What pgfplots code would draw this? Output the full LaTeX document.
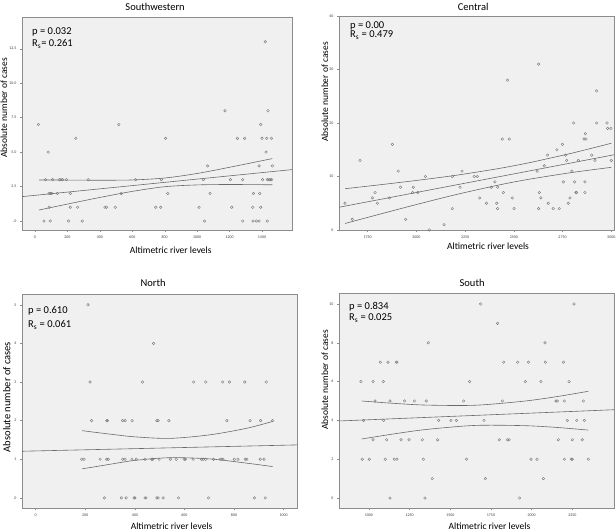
\documentclass[border=0pt]{standalone}
\usepackage{fontspec}
\setmainfont{Carlito}
\usepackage{pgfplots}
\pgfplotsset{compat=1.18}

\definecolor{panelbg}{HTML}{F0F0F0}
\definecolor{framegray}{HTML}{8C8C8C}
\definecolor{ptgray}{HTML}{7A7A7A}
\definecolor{linegray}{HTML}{6A6A6A}

\pgfplotsset{
  spss/.style={
    scale only axis,
    axis background/.style={fill=panelbg},
    axis line style={framegray, line width=0.8pt},
    tick style={framegray, line width=0.4pt},
    tick align=outside,
    major tick length=2pt,
    xtick pos=bottom, ytick pos=left,
    ticklabel style={font=\fontsize{4}{4}\selectfont, text=black!75},
    label style={font=\fontsize{9.5}{10}\selectfont},
    every axis title/.style={font=\fontsize{10.5}{11}\selectfont, anchor=center},
    xlabel={Altimetric river levels},
    ylabel={Absolute number of cases},
  },
  pts/.style={only marks, mark=o, mark size=1.3pt, ptgray, mark options={line width=0.4pt}},
  fitl/.style={no marks, linegray, line width=0.6pt},
  band/.style={no marks, smooth, linegray, line width=0.6pt},
}

\begin{document}
\begin{tikzpicture}
\useasboundingbox (0pt,0pt) rectangle (616pt,531pt);

% Southwestern
\begin{axis}[spss,
  at={(22pt,301pt)}, width=270pt, height=213pt,
  xmin=-80, xmax=1585, ymin=-0.65, ymax=14.8,
  xtick={0,200,400,600,800,1000,1200,1400},
  xticklabels={0,200,400,600,800,1000,1200,1400},
  ytick={0,2.5,5,7.5,10,12.5},
  yticklabels={.0,2.5,5.0,7.5,10.0,12.5},
  title={Southwestern},
  title style={at={(axis description cs:0.493,1.048)}},
  xlabel style={at={(axis description cs:0.551,-0.094)}, anchor=center},
  ylabel style={at={(axis description cs:-0.067,0.573)}, anchor=center},
]
\addplot[pts] coordinates {
  (1420,13) (1172,8) (1437,8) (21,7) (517,7) (1392,7)
  (252,6) (805,6) (1248,6) (1293,6) (1400,6) (1429,6) (1458,6)
  (82,5) (1425,5) (1065,4) (1382,4) (1464,4)
  (65,3) (109,3) (150,3) (160,3) (170,3) (193,3) (328,3) (620,3) (780,3) (1039,3)
  (1205,3) (1281,3) (1404,3) (1433,3) (1443,3) (1451,3) (1460,3)
  (86,2) (96,2) (103,2) (138,2) (218,2) (532,2) (819,2) (1080,2) (1347,2) (1386,2)
  (88,1) (218,1) (263,1) (431,1) (441,1) (495,1) (745,1) (776,1) (1012,1) (1213,1) (1343,1) (1392,1)
  (55,0) (94,0) (207,0) (292,0) (1045,0) (1281,0) (1345,0) (1365,0) (1382,0) (1433,0)
};
\addplot[fitl] coordinates {(-80,1.77) (1585,3.73)};
\addplot[band] coordinates {(25,2.98) (200,2.97) (400,2.96) (600,2.98) (800,3.12) (1000,3.45) (1200,3.90) (1464,4.53)};
\addplot[band] coordinates {(25,0.80) (200,1.23) (400,1.71) (600,2.15) (800,2.49) (1000,2.62) (1200,2.65) (1464,2.63)};
\end{axis}

% Central
\begin{axis}[spss,
  at={(339pt,301pt)}, width=275pt, height=214pt,
  xmin=1603, xmax=3014, ymin=0, ymax=40,
  xtick={1750,2000,2250,2500,2750,3000},
  xticklabels={1750,2000,2250,2500,2750,3000},
  ytick={0,10,20,30,40},
  yticklabels={0,10,20,30,40},
  title={Central},
  title style={at={(axis description cs:0.488,1.043)}},
  xlabel style={at={(axis description cs:0.542,-0.075)}, anchor=center},
  ylabel style={at={(axis description cs:-0.051,0.645)}, anchor=center},
]
\addplot[pts] coordinates {
  (1634,5) (1671,2) (1711,13) (1774,6) (1788,7) (1800,5) (1861,6) (1877,16) (1907,11) (1919,8)
  (1945,2) (1981,7) (1984,8) (2007,7) (2046,10) (2066,0) (2142,1) (2184,4) (2184,10) (2224,8)
  (2234,11) (2297,10) (2313,10) (2325,6) (2360,5) (2384,8) (2403,9) (2412,5) (2417,8) (2417,4)
  (2441,17) (2446,7) (2468,28) (2477,17) (2492,6) (2501,4) (2620,11) (2627,4) (2627,31) (2631,7)
  (2639,6) (2656,12) (2673,14) (2677,5) (2702,4) (2721,15) (2733,4) (2749,16) (2754,9) (2766,14)
  (2771,13) (2779,5) (2788,6) (2798,11) (2807,20) (2812,9) (2819,7) (2822,7) (2831,13) (2860,17)
  (2865,9) (2865,7) (2867,18) (2870,17) (2899,14) (2916,13) (2925,20) (2925,26) (2978,20)
  (2981,19) (2998,19) (3000,13)
};
\addplot[fitl] coordinates {(1603,4.25) (3014,14.06)};
\addplot[band] coordinates {(1634,7.72) (1800,8.40) (2000,9.26) (2200,10.21) (2400,11.35) (2500,12.01) (2600,12.74) (2800,14.38) (3000,16.21)};
\addplot[band] coordinates {(1634,1.22) (1800,2.84) (2000,4.76) (2200,6.59) (2400,8.23) (2500,8.97) (2600,9.62) (2800,10.76) (3000,11.71)};
\end{axis}

% North
\begin{axis}[spss,
  at={(22pt,22.7pt)}, width=275pt, height=214pt,
  xmin=-55, xmax=1054, ymin=-0.27, ymax=5.27,
  xtick={0,200,400,600,800,1000},
  xticklabels={0,200,400,600,800,1000},
  ytick={0,1,2,3,4,5},
  yticklabels={0,1,2,3,4,5},
  title={North},
  title style={at={(axis description cs:0.477,1.051)}},
  xlabel style={at={(axis description cs:0.544,-0.086)}, anchor=center},
  ylabel style={at={(axis description cs:-0.055,0.520)}, anchor=center, font=\fontsize{10.5}{11}\selectfont},
]
\addplot[pts] coordinates {
  (211,5) (476,4)
  (219,3) (431,3) (637,3) (686,3) (754,3) (782,3) (843,3) (930,3)
  (226,2) (287,2) (289,2) (351,2) (361,2) (389,2) (489,2) (494,2) (537,2) (771,2) (865,2) (907,2) (956,2)
  (186,1) (195,1) (260,1) (287,1) (293,1) (351,1) (361,1) (388,1) (406,1) (441,1) (468,1) (472,1)
  (498,1) (544,1) (567,1) (599,1) (604,1) (635,1) (669,1) (676,1) (686,1) (717,1) (744,1) (751,1)
  (756,1) (801,1) (816,1) (845,1) (852,1) (906,1) (921,1)
  (277,0) (346,0) (365,0) (397,0) (400,0) (441,0) (445,0) (489,0) (494,0) (514,0) (576,0) (697,0) (882,0) (926,0)
};
\addplot[fitl] coordinates {(-55,1.207) (1054,1.371)};
\addplot[band] coordinates {(187,1.74) (300,1.65) (400,1.58) (540,1.54) (700,1.63) (850,1.80) (956,1.98)};
\addplot[band] coordinates {(187,0.75) (300,0.87) (400,0.97) (540,1.04) (700,1.01) (850,0.90) (956,0.81)};
\end{axis}

% South
\begin{axis}[spss,
  at={(339pt,22.7pt)}, width=275pt, height=215pt,
  xmin=816, xmax=2506, ymin=-0.53, ymax=10.55,
  xtick={1000,1250,1500,1750,2000,2250},
  xticklabels={1000,1250,1500,1750,2000,2250},
  ytick={0,2,4,6,8,10},
  yticklabels={0,2,4,6,8,10},
  title={South},
  title style={at={(axis description cs:0.484,1.047)}},
  xlabel style={at={(axis description cs:0.547,-0.082)}, anchor=center},
  ylabel style={at={(axis description cs:-0.051,0.597)}, anchor=center},
]
\addplot[pts] coordinates {
  (1686,10) (2260,10) (1791,9) (1365,8) (2082,8)
  (1070,7) (1117,7) (1168,7) (1172,7) (1828,7) (1914,7) (1980,7) (2084,7) (2195,7)
  (951,6) (1025,6) (1088,6) (1619,6) (1961,6) (2057,6) (2230,6)
  (1037,5) (1129,5) (1219,5) (1279,5) (1352,5) (1582,5) (1820,5) (2150,5) (2158,5) (2201,5) (2318,5)
  (967,4) (1090,4) (1428,4) (1504,4) (1537,4) (1707,4) (2219,4) (2277,4) (2324,4)
  (1025,3) (1109,3) (1197,3) (1246,3) (1328,3) (1422,3) (1801,3) (1852,3) (1861,3) (2164,3) (2250,3) (2311,3)
  (959,2) (1002,2) (1100,2) (1156,2) (1172,2) (1334,2) (1600,2) (1996,2) (2033,2) (2201,2) (2244,2) (2250,2) (2348,2)
  (1389,1) (1715,1) (2072,1)
  (1129,0) (1344,0) (1926,0)
};
\addplot[fitl] coordinates {(816,3.97) (2506,4.55)};
\addplot[band] coordinates {(955,5.00) (1150,4.88) (1350,4.79) (1650,4.78) (1950,4.99) (2150,5.22) (2348,5.50)};
\addplot[band] coordinates {(955,3.04) (1150,3.30) (1350,3.53) (1650,3.74) (1950,3.73) (2150,3.64) (2348,3.50)};
\end{axis}

% statistics text
\begin{scope}[every node/.style={anchor=west, inner sep=0pt, font=\fontsize{10.5}{11}\selectfont}]
\node at (32pt,499pt) {p = 0.032};
\node at (32pt,487pt) {R\textsubscript{s}= 0.261};
\node at (350pt,505.3pt) {p = 0.00};
\node at (350pt,495.7pt) {R\textsubscript{s} = 0.479};
\node at (28pt,220.3pt) {p = 0.610};
\node at (28pt,206pt) {R\textsubscript{s} = 0.061};
\node at (349pt,224.3pt) {p = 0.834};
\node at (349pt,212.7pt) {R\textsubscript{s} = 0.025};
\end{scope}
\end{tikzpicture}
\end{document}
